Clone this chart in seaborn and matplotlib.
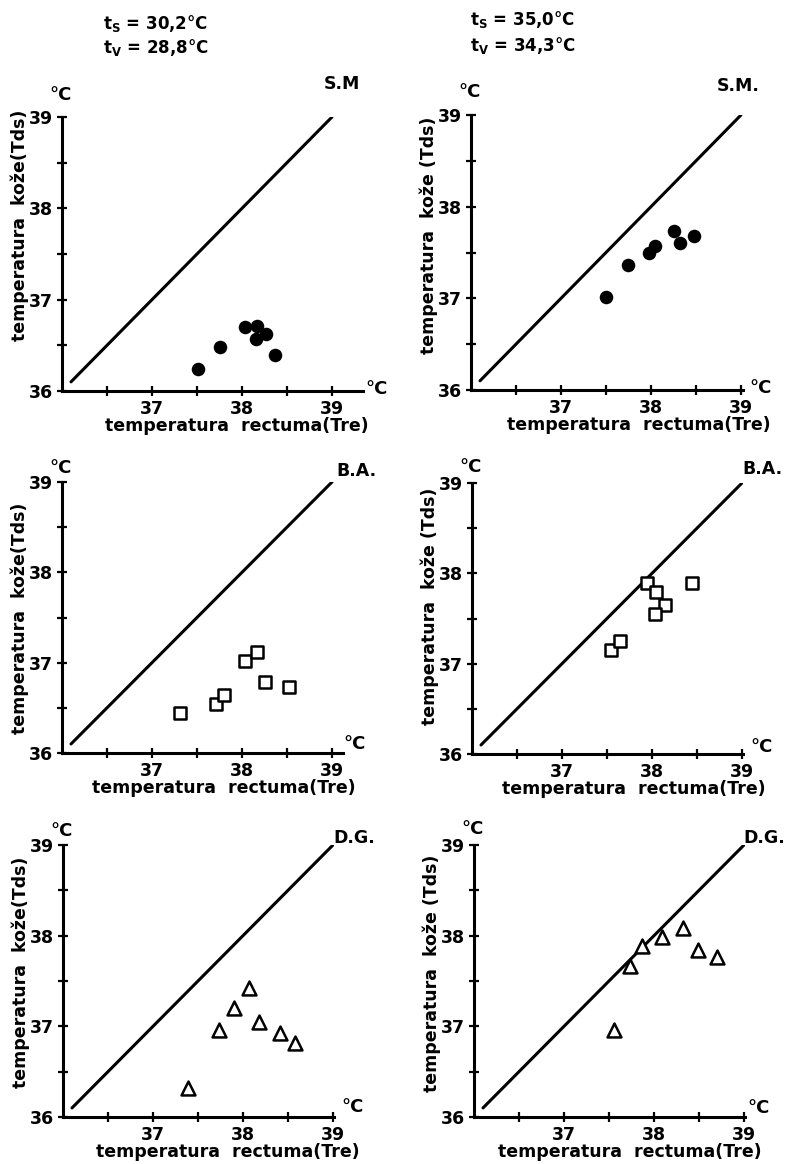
import matplotlib
matplotlib.use("Agg")
import matplotlib.pyplot as plt
import pandas as pd
import seaborn as sns

# rectal (Tre) vs skin (Tds) temperature, three subjects, two ambient conditions
sm_a_tre = [37.51, 37.76, 38.03, 38.17, 38.15, 38.27, 38.37]
sm_a_tds = [36.24, 36.48, 36.70, 36.71, 36.57, 36.62, 36.39]
sm_b_tre = [37.50, 37.75, 37.98, 38.05, 38.26, 38.32, 38.48]
sm_b_tds = [37.01, 37.36, 37.49, 37.57, 37.74, 37.60, 37.68]
ba_a_tre = [37.31, 37.71, 37.80, 38.03, 38.17, 38.26, 38.52]
ba_a_tds = [36.44, 36.54, 36.64, 37.02, 37.12, 36.79, 36.73]
ba_b_tre = [37.55, 37.65, 37.94, 38.04, 38.15, 38.03, 38.44]
ba_b_tds = [37.15, 37.25, 37.89, 37.79, 37.65, 37.55, 37.89]
dg_a_tre = [37.39, 37.73, 37.90, 38.07, 38.18, 38.41, 38.58]
dg_a_tds = [36.32, 36.96, 37.20, 37.42, 37.05, 36.93, 36.82]
dg_b_tre = [37.56, 37.73, 37.87, 38.09, 38.32, 38.49, 38.70]
dg_b_tds = [36.96, 37.66, 37.89, 37.99, 38.08, 37.84, 37.77]

diag = [36.1, 39.0]  # Tds = Tre line

headers = [["t$_\\mathbf{S}$ = 30,2°C", "t$_\\mathbf{V}$ = 28,8°C"],
           ["t$_\\mathbf{S}$ = 35,0°C", "t$_\\mathbf{V}$ = 34,3°C"]]

x_ticks = [36.5, 37, 37.5, 38, 38.5, 39]
x_ticklabels = ["", "37", "", "38", "", "39"]
y_ticks = [36, 36.5, 37, 37.5, 38, 38.5, 39]
y_ticklabels = ["36", "", "37", "", "38", "", "39"]

ylab_a = "temperatura  kože(Tds)"
ylab_b = "temperatura  kože (Tds)"
xlab = "temperatura  rectuma(Tre)"

# name, x, y, marker, filled, ylabel, box px (left, top, right, bottom),
# name offset px, deg-C offsets, label centres (x label in Tre, y label in Tds)
panels = [
    ("S.M", sm_a_tre, sm_a_tds, "o", True, ylab_a, (62, 117, 363, 391), (-3, 33), 22, (14, 2), 37.94, 37.81),
    ("S.M.", sm_b_tre, sm_b_tds, "o", True, ylab_b, (471, 115, 743, 390), (17, 29), 23, (18, 2), 37.86, 37.69),
    ("B.A.", ba_a_tre, ba_a_tds, "s", False, ylab_a, (62, 482, 343, 753), (34, 11), 14, (12, 9), 37.80, 37.49),
    ("B.A.", ba_b_tre, ba_b_tds, "s", False, ylab_b, (472, 483, 743, 754), (40, 14), 16, (19, 7), 37.80, 37.63),
    ("D.G.", dg_a_tre, dg_a_tds, "^", False, ylab_a, (63, 845, 334, 1117), (41, 7), 14, (19, 10), 37.83, 37.60),
    ("D.G.", dg_b_tre, dg_b_tds, "^", False, ylab_b, (474, 845, 745, 1117), (40, 7), 16, (14, 9), 37.73, 37.59),
]

sns.set_style("ticks")
plt.rcParams["font.family"] = ["DejaVu Sans"]
plt.rcParams["font.weight"] = "bold"
for key in ["text.color", "axes.labelcolor", "xtick.color", "ytick.color", "axes.edgecolor"]:
    plt.rcParams[key] = "black"

W, H = 788, 1164
PT = 0.72  # points per pixel at dpi 100
fig = plt.figure(figsize=(W / 100, H / 100), dpi=100)

for name, tre, tds, marker, filled, ylab, box, name_off, degy_off, degx_off, xl_c, yl_c in panels:
    left, top, right, bottom = box
    ax = fig.add_axes([left / W, 1 - bottom / H, (right - left) / W, (bottom - top) / H])
    xmax = 36 + (right - left) / 90.0
    df = pd.DataFrame({"Tre": tre, "Tds": tds})

    sns.lineplot(x=diag, y=diag, color="black", linewidth=2.2, ax=ax)
    if filled:
        sns.scatterplot(data=df, x="Tre", y="Tds", marker=marker, s=95, color="black",
                        edgecolor="black", linewidth=0, ax=ax, zorder=3)
    else:
        sns.scatterplot(data=df, x="Tre", y="Tds", marker=marker, s=85 if marker == "s" else 100,
                        facecolor="white", edgecolor="black", linewidth=1.8, ax=ax, zorder=3)

    ax.set_xlim(36, xmax)
    ax.set_ylim(36, 39)
    for side in ["top", "right"]:
        ax.spines[side].set_visible(False)
    for side in ["left", "bottom"]:
        ax.spines[side].set_linewidth(2.2)
    ax.set_xticks(x_ticks)
    ax.set_xticklabels(x_ticklabels)
    ax.set_yticks(y_ticks)
    ax.set_yticklabels(y_ticklabels)
    ax.tick_params(direction="inout", length=7, width=1.6, labelsize=12.5, pad=3)
    ax.set_xlabel("")
    ax.set_ylabel("")

    ax.annotate(xlab, xy=(xl_c, 0), xycoords=("data", "axes fraction"),
                xytext=(0, -35 * PT), textcoords="offset points",
                ha="center", va="center", fontsize=12.5)
    ax.annotate(ylab, xy=(0, yl_c), xycoords=("axes fraction", "data"),
                xytext=(-42 * PT, 0), textcoords="offset points",
                ha="center", va="center", rotation=90, fontsize=12.5)
    ax.annotate(name, xy=(1, 1), xycoords="axes fraction",
                xytext=(name_off[0] * PT, name_off[1] * PT), textcoords="offset points",
                ha="right", va="center", fontsize=12.5)
    ax.annotate("°C", xy=(0, 1), xycoords="axes fraction",
                xytext=(-1 * PT, degy_off * PT), textcoords="offset points",
                ha="center", va="center", fontsize=13)
    ax.annotate("°C", xy=(1, 0), xycoords="axes fraction",
                xytext=(degx_off[0] * PT, degx_off[1] * PT), textcoords="offset points",
                ha="center", va="center", fontsize=13)

# ambient temperature headers above each column
for (tx, ty), lines in zip([(103, 23), (470, 20)], headers):
    for i, line in enumerate(lines):
        fig.text(tx / W, 1 - (ty + 25 * i) / H, line, ha="left", va="center", fontsize=12)

fig.savefig("out.png", dpi=100, facecolor="white")
